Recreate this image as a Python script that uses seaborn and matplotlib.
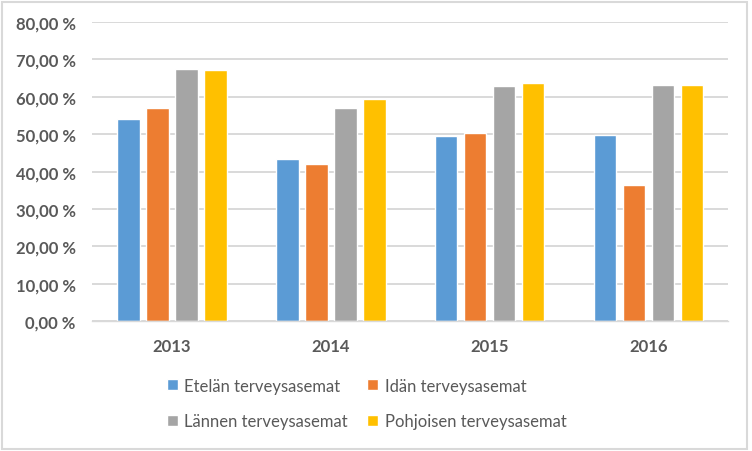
import pandas as pd
import matplotlib
matplotlib.use('Agg')
import matplotlib.pyplot as plt
import seaborn as sns
from matplotlib.patches import Rectangle
from matplotlib.ticker import FuncFormatter

# data
years = ['2013', '2014', '2015', '2016']
etela = [54.1, 43.4, 49.6, 49.8]
ita = [56.9, 42.1, 50.3, 36.4]
lansi = [67.5, 56.9, 62.9, 63.2]
pohjoinen = [67.2, 59.3, 63.7, 63.2]

series_names = ['Etelän terveysasemat', 'Idän terveysasemat',
                'Lännen terveysasemat', 'Pohjoisen terveysasemat']
colors = ['#5B9BD5', '#ED7D31', '#A5A5A5', '#FFC000']

rows = []
for name, vals in zip(series_names, [etela, ita, lansi, pohjoinen]):
    for y, v in zip(years, vals):
        rows.append({'vuosi': y, 'sarja': name, 'arvo': v})
df = pd.DataFrame(rows)

sns.set_style('white')
plt.rcParams['font.family'] = ['Lato', 'DejaVu Sans']

fig = plt.figure(figsize=(7.52, 4.52), dpi=100)
ax = fig.add_axes([0.123, 0.2876, 0.845, 0.6614])

sns.barplot(data=df, x='vuosi', y='arvo', hue='sarja', hue_order=series_names,
            palette=colors, width=0.73, gap=0.22, saturation=1, ax=ax)

ax.set_ylim(0, 80)
ax.set_yticks(range(0, 81, 10))
ax.yaxis.set_major_formatter(FuncFormatter(lambda v, p: f'{v:.2f} %'.replace('.', ',')))
ax.grid(axis='y', color='#D9D9D9', linewidth=1.4)
ax.set_axisbelow(True)
for s in ['top', 'right', 'left']:
    ax.spines[s].set_visible(False)
ax.spines['bottom'].set_color('#D9D9D9')
ax.spines['bottom'].set_linewidth(1.0)
ax.tick_params(axis='both', length=0, labelsize=12, colors='#595959')
ax.tick_params(axis='y', pad=12)
ax.tick_params(axis='x', pad=12)
plt.setp(ax.get_xticklabels() + ax.get_yticklabels(), fontweight='bold')
ax.set_xlabel('')
ax.set_ylabel('')

# legend: row-major order like the original
handles, labels = ax.get_legend_handles_labels()
ax.get_legend().remove()
order = [0, 2, 1, 3]
fig.legend([handles[i] for i in order], [labels[i] for i in order],
           loc='upper left', bbox_to_anchor=(0.222, 0.162), ncol=2, frameon=False,
           fontsize=12, handlelength=0.65, handleheight=0.65, handletextpad=0.4,
           columnspacing=1.15, labelspacing=1.15, borderpad=0, borderaxespad=0,
           labelcolor='#595959')

fig.patches.append(Rectangle((0.002, 0.004), 0.992, 0.99, transform=fig.transFigure,
                             fill=False, edgecolor='#D9D9D9', linewidth=1.5))

fig.savefig('out.png', dpi=100, facecolor='white')
